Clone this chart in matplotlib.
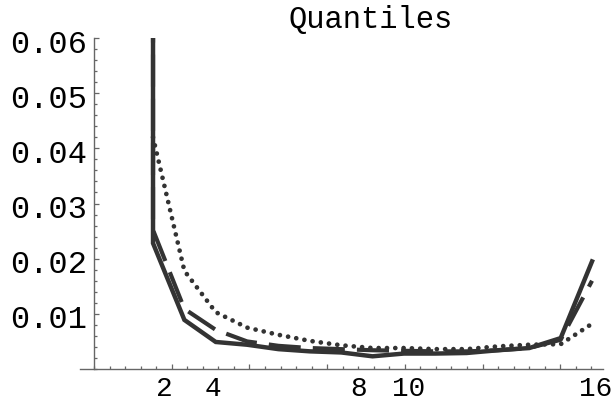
import matplotlib
matplotlib.use("Agg")
import matplotlib.pyplot as plt
from matplotlib.ticker import FixedLocator, NullFormatter, MultipleLocator
from matplotlib.transforms import ScaledTranslation

# data: index positions (first point repeated -> vertical spike), three quantile curves
x_idx = [1, 1, 2, 3, 4, 5, 6, 7, 8, 9, 10, 11, 12, 13, 14, 15]
q_solid = [0.065, 0.0228, 0.0089, 0.0049, 0.0044, 0.0036, 0.0032, 0.0030,
           0.0023, 0.0028, 0.0028, 0.0029, 0.0034, 0.0038, 0.0056, 0.0195]
q_dashed = [0.065, 0.0252, 0.0109, 0.0071, 0.0050, 0.0042, 0.0038, 0.0036,
            0.0034, 0.0033, 0.0032, 0.0032, 0.0034, 0.0038, 0.0053, 0.0160]
q_dotted = [0.042, 0.042, 0.0178, 0.0103, 0.0075, 0.0062, 0.0051, 0.0043,
            0.0038, 0.0038, 0.0036, 0.0036, 0.0041, 0.0044, 0.0045, 0.0082]

x_labels = ["2", "4", "8", "10", "16"]
x_label_pos = [1.35, 2.91, 7.57, 9.16, 15.13]
y_ticks = [0.01, 0.02, 0.03, 0.04, 0.05, 0.06]

FONT = "Liberation Mono"
LINE = "#333333"
AXC = "#666666"

# axis geometry (index units)
x_origin = -0.881
x_major = 2.478

fig = plt.figure(figsize=(6.16, 4.01), dpi=100)
ax = fig.add_axes([0.1299, 0.0798, 0.9789 - 0.1299, 0.9052 - 0.0798])

ax.plot(x_idx, q_dotted, color=LINE, lw=3.4, linestyle=(0, (0.01, 1.75)),
        dash_capstyle="round", zorder=2)
ax.plot(x_idx, q_dashed, color=LINE, lw=3.0, dashes=(7.7, 2.9), zorder=3)
ax.plot(x_idx, q_solid, color=LINE, lw=3.2, solid_joinstyle="miter", zorder=4)

ax.set_xlim(-1.328, 15.35)
ax.set_ylim(0, 0.06)

for s in ["top", "right"]:
    ax.spines[s].set_visible(False)
ax.spines["left"].set_position(("data", x_origin))
for s in ["left", "bottom"]:
    ax.spines[s].set_color(AXC)
    ax.spines[s].set_linewidth(1.0)

ax.xaxis.set_major_locator(FixedLocator([x_origin + x_major * n for n in range(1, 7)]))
ax.xaxis.set_minor_locator(FixedLocator([x_origin + x_major / 5 * n for n in range(-2, 34)]))
ax.xaxis.set_major_formatter(NullFormatter())
ax.set_yticks(y_ticks)
ax.set_yticklabels([f"{v:.2f}" for v in y_ticks])
ax.yaxis.set_minor_locator(MultipleLocator(0.002))

ax.tick_params(which="both", direction="in", color=AXC, width=0.9)
ax.tick_params(which="major", length=3.5)
ax.tick_params(which="minor", length=2.0)
ax.tick_params(axis="y", labelsize=23, pad=5)
shift = ScaledTranslation(0, -3 / 100, fig.dpi_scale_trans)
for lab in ax.get_yticklabels():
    lab.set_fontfamily(FONT)
    lab.set_transform(lab.get_transform() + shift)

for txt, xp in zip(x_labels, x_label_pos):
    ax.text(xp, -27.0 / 331, txt, transform=ax.get_xaxis_transform(), ha="center",
            va="baseline", fontsize=20, family=FONT)

fig.text(371 / 616, 1 - 28 / 401, "Quantiles", ha="center", va="baseline",
         fontsize=22, family=FONT)

fig.savefig("out.png", dpi=100)
